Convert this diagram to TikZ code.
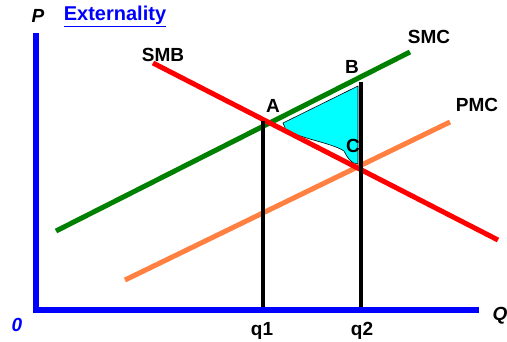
\documentclass[tikz,border=0pt]{standalone}
\usepackage{fontspec}
\setmainfont{Liberation Sans}
\usepackage{xcolor}
\usepackage{tikz}
\usetikzlibrary{positioning,calc}

\definecolor{axblue}{RGB}{0,0,255}
\definecolor{smcgreen}{RGB}{0,128,0}
\definecolor{smbred}{RGB}{255,0,0}
\definecolor{pmcorange}{RGB}{255,128,64}
\definecolor{losscyan}{RGB}{0,255,255}

\begin{document}
\begin{tikzpicture}[x=1pt,y=-1pt,
  crv/.style={line width=5pt},
  ax/.style={draw=axblue,line width=6pt},
  vl/.style={line width=3.5pt,black},
  lbl/.style={font=\fontsize{19}{21}\selectfont\bfseries,inner sep=0pt,text depth=0pt},
  albl/.style={lbl,font=\fontsize{19}{21}\selectfont\bfseries\itshape},
  tri/.style={fill=losscyan,draw=black,line width=0.6pt}]
\useasboundingbox (0,0) rectangle (507,341);
% curve end points
\coordinate (smc0) at (56,231);  \coordinate (smc1) at (410,52);
\coordinate (smb0) at (153,63);  \coordinate (smb1) at (498,240);
\coordinate (pmc0) at (125,280); \coordinate (pmc1) at (450,122);
\coordinate (o) at (36,310);
\coordinate (ytop) at (36,33);
\coordinate (xend) at (479,310);
\coordinate (q1top) at (263,121); \coordinate (q1bot) at (263,310);
\coordinate (q2top) at (361,82);  \coordinate (q2bot) at (361,310);
% welfare loss triangle
\coordinate (t1) at (283,123);
\coordinate (t2) at (358,86);
\coordinate (t3) at (358,164);
\draw[tri] (t1) -- (t2) -- (t3) .. controls (351,164) and (347,157) .. (344,151)
  .. controls (332,143) and (302,139) .. (286,130) -- cycle;
% curves
\draw[crv,pmcorange] (pmc0) -- (pmc1);
\draw[crv,smcgreen] (smc0) -- (smc1);
\draw[crv,smbred] (smb0) -- (smb1);
\draw[vl] (q1top) -- (q1bot);
\draw[vl] (q2top) -- (q2bot);
\draw[ax] (ytop) -- (o) -- (xend);
% labels
\foreach \nm/\px/\py/\txt in {smc/429/37/SMC, smb/163/55/SMB, pmc/477/105/PMC,
  a/273/106/A, b/352/67/B, c/353/146/C, q1/262/329/q1, q2/362/329/q2}{
  \node[lbl] (l-\nm) at (\px,\py) {\txt};
}
\node[albl] (l-p) at (38,16) {P};
\node[albl] (l-q) at (500,314) {Q};
\node[albl,text=axblue] (l-o) at (17,325) {0};
\node[lbl,text=axblue,font=\fontsize{20}{22}\selectfont\bfseries] (title) at (115,13) {\underline{Externality}};
\end{tikzpicture}
\end{document}
